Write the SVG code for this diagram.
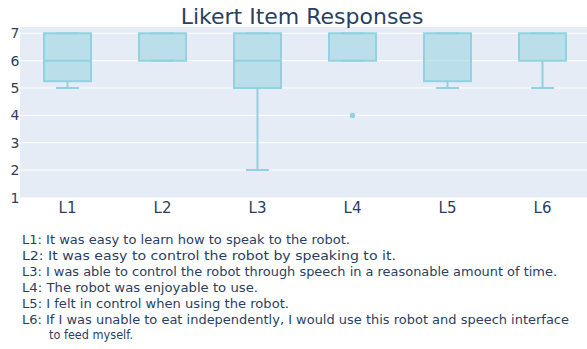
<svg xmlns="http://www.w3.org/2000/svg" width="587" height="349" viewBox="0 0 587 349">
<style>
.t{font-family:"DejaVu Sans","Liberation Sans",sans-serif;fill:#2a3f5f}
.grid{stroke:#ffffff;stroke-width:1}
.box{fill:#91d2de;fill-opacity:0.5;stroke:#91d2de;stroke-width:2}
.wh{fill:none;stroke:#91d2de;stroke-width:2}
.tick{font-size:14px;text-anchor:end}
.xl{font-size:15px;text-anchor:middle}
.note{font-size:12.2px}
</style>
<rect width="587" height="349" fill="#ffffff"/>
<g id="plot-area">
<rect x="20" y="27" width="570" height="170.5" fill="#e5ecf6"/>
<g class="grid">
<line x1="20" y1="33.3" x2="587" y2="33.3"/>
<line x1="20" y1="60.7" x2="587" y2="60.7"/>
<line x1="20" y1="88" x2="587" y2="88"/>
<line x1="20" y1="115.4" x2="587" y2="115.4"/>
<line x1="20" y1="142.7" x2="587" y2="142.7"/>
<line x1="20" y1="170.1" x2="587" y2="170.1"/>
</g>
</g>
<text class="t" x="302" y="24" font-size="22" text-anchor="middle">Likert Item Responses</text>
<g id="y-axis">
<text class="t tick" x="19.5" y="38.3">7</text>
<text class="t tick" x="19.5" y="65.7">6</text>
<text class="t tick" x="19.5" y="93">5</text>
<text class="t tick" x="19.5" y="120.4">4</text>
<text class="t tick" x="19.5" y="147.7">3</text>
<text class="t tick" x="19.5" y="175.1">2</text>
<text class="t tick" x="19.5" y="202.5">1</text>
</g>
<g id="x-axis">
<text class="t xl" x="67.5" y="213.3">L1</text>
<text class="t xl" x="162.5" y="213.3">L2</text>
<text class="t xl" x="257.5" y="213.3">L3</text>
<text class="t xl" x="352.5" y="213.3">L4</text>
<text class="t xl" x="447.5" y="213.3">L5</text>
<text class="t xl" x="542.5" y="213.3">L6</text>
</g>
<g id="box-L1">
<rect class="box" x="44" y="33.3" width="47" height="47.9"/>
<path class="wh" d="M44 60.7H91M67.5 81.2V88M56 88H79M56 33.3H79"/>
</g>
<g id="box-L2">
<rect class="box" x="139" y="33.3" width="47" height="27.4"/>
<path class="wh" d="M151 60.7H174M151 33.3H174"/>
</g>
<g id="box-L3">
<rect class="box" x="234" y="33.3" width="47" height="54.7"/>
<path class="wh" d="M234 60.7H281M257.5 88V170.1M246 170.1H269M246 33.3H269"/>
</g>
<g id="box-L4">
<rect class="box" x="329" y="33.3" width="47" height="27.4"/>
<path class="wh" d="M341 60.7H364M341 33.3H364"/>
<circle cx="352.5" cy="115.4" r="2.7" fill="#91d2de"/>
</g>
<g id="box-L5">
<rect class="box" x="424" y="33.3" width="47" height="47.9"/>
<path class="wh" d="M447.5 81.2V88M436 88H459M436 33.3H459"/>
</g>
<g id="box-L6">
<rect class="box" x="519" y="33.3" width="47" height="27.4"/>
<path class="wh" d="M542.5 60.7V88M531 88H554M531 33.3H554"/>
</g>
<g id="connectors"/>
<g id="notes" class="t note">
<text x="22" y="243.5" textLength="328" lengthAdjust="spacingAndGlyphs">L1: It was easy to learn how to speak to the robot.</text>
<text x="22" y="259.5" textLength="374" lengthAdjust="spacingAndGlyphs">L2: It was easy to control the robot by speaking to it.</text>
<text x="22" y="275.5" textLength="535" lengthAdjust="spacingAndGlyphs">L3: I was able to control the robot through speech in a reasonable amount of time.</text>
<text x="22" y="291.5" textLength="236" lengthAdjust="spacingAndGlyphs">L4: The robot was enjoyable to use.</text>
<text x="22" y="307.5" textLength="267" lengthAdjust="spacingAndGlyphs">L5: I felt in control when using the robot.</text>
<text x="22" y="323.5" textLength="547" lengthAdjust="spacingAndGlyphs">L6: If I was unable to eat independently, I would use this robot and speech interface</text>
<text x="49" y="339" textLength="84" lengthAdjust="spacingAndGlyphs">to feed myself.</text>
</g>
</svg>
